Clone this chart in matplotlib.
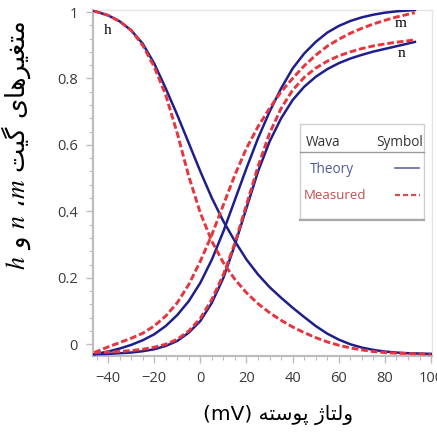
import matplotlib
matplotlib.use("Agg")
import matplotlib.pyplot as plt
from matplotlib.patches import Rectangle
from matplotlib.lines import Line2D
from matplotlib.ticker import MultipleLocator

plt.rcParams['mathtext.fontset'] = 'stix'

# membrane voltage (mV) and gate values
v_h = [-46, -40, -35, -30, -25, -20, -15, -10, -5, 0, 5, 10, 15, 20, 25, 30, 35, 40,
       45, 50, 55, 60, 65, 70, 75, 80, 85, 90, 95, 100]
h_theory = [1.003, 0.99, 0.972, 0.945, 0.905, 0.845, 0.77, 0.69, 0.605, 0.52, 0.44,
            0.37, 0.31, 0.255, 0.21, 0.172, 0.14, 0.11, 0.082, 0.055, 0.032, 0.014,
            0.0, -0.01, -0.017, -0.022, -0.025, -0.027, -0.028, -0.029]
h_measured = [1.003, 0.99, 0.972, 0.945, 0.90, 0.835, 0.75, 0.635, 0.505, 0.395, 0.31,
              0.245, 0.195, 0.155, 0.122, 0.095, 0.072, 0.052, 0.035, 0.02, 0.007,
              -0.003, -0.011, -0.017, -0.022, -0.025, -0.027, -0.028, -0.029, -0.03]

v_mn = [-46, -40, -35, -30, -25, -20, -15, -10, -5, 0, 5, 10, 15, 20, 25, 30, 35, 40,
        45, 50, 55, 60, 65, 70, 75, 80, 85, 93]
m_theory = [-0.03, -0.022, -0.013, -0.002, 0.012, 0.03, 0.055, 0.088, 0.13, 0.185,
            0.255, 0.34, 0.435, 0.53, 0.62, 0.70, 0.77, 0.83, 0.875, 0.91, 0.938,
            0.958, 0.973, 0.984, 0.992, 0.998, 1.002, 1.006]
m_measured = [-0.025, -0.008, 0.005, 0.018, 0.033, 0.055, 0.085, 0.125, 0.18, 0.25,
              0.33, 0.42, 0.51, 0.59, 0.655, 0.71, 0.76, 0.80, 0.838, 0.87, 0.897,
              0.918, 0.936, 0.951, 0.964, 0.975, 0.985, 0.998]
n_theory = [-0.03, -0.029, -0.027, -0.025, -0.021, -0.015, -0.005, 0.01, 0.035, 0.07,
            0.125, 0.20, 0.30, 0.41, 0.52, 0.61, 0.68, 0.735, 0.775, 0.805, 0.828,
            0.846, 0.86, 0.871, 0.881, 0.889, 0.897, 0.91]
n_measured = [-0.025, -0.024, -0.022, -0.019, -0.015, -0.009, 0.0, 0.015, 0.04, 0.078,
              0.135, 0.21, 0.305, 0.42, 0.535, 0.635, 0.71, 0.765, 0.803, 0.831,
              0.852, 0.868, 0.88, 0.89, 0.898, 0.904, 0.909, 0.916]

# presentation forms: isolated, final, initial, medial
FORMS = {
    'ا': ('\uFE8D', '\uFE8E', None, None),
    'ت': ('\uFE95', '\uFE96', '\uFE97', '\uFE98'),
    'ر': ('\uFEAD', '\uFEAE', None, None),
    'ژ': ('\uFB8A', '\uFB8B', None, None),
    'س': ('\uFEB1', '\uFEB2', '\uFEB3', '\uFEB4'),
    'غ': ('\uFECD', '\uFECE', '\uFECF', '\uFED0'),
    'گ': ('\uFB92', '\uFB93', '\uFB94', '\uFB95'),
    'ل': ('\uFEDD', '\uFEDE', '\uFEDF', '\uFEE0'),
    'م': ('\uFEE1', '\uFEE2', '\uFEE3', '\uFEE4'),
    'ه': ('\uFEE9', '\uFEEA', '\uFEEB', '\uFEEC'),
    'و': ('\uFEED', '\uFEEE', None, None),
    'پ': ('\uFB56', '\uFB57', '\uFB58', '\uFB59'),
    'ی': ('\uFBFC', '\uFBFD', '\uFBFE', '\uFBFF'),
}


def fa(word):
    # join persian letters and flip to visual order (matplotlib has no shaping)
    out = []
    for i, ch in enumerate(word):
        prev_joins = i > 0 and FORMS[word[i - 1]][2] is not None
        next_joins = i < len(word) - 1 and FORMS[ch][2] is not None
        iso, fin, ini, med = FORMS[ch]
        if prev_joins and next_joins:
            out.append(med)
        elif prev_joins:
            out.append(fin)
        elif next_joins:
            out.append(ini)
        else:
            out.append(iso)
    return ''.join(reversed(out))


blue = '#1f1f8c'
red = '#e5353f'

fig = plt.figure(figsize=(4.37, 4.36), dpi=100)
ax = fig.add_axes([0.213, 0.183, 0.776, 0.794])

ax.plot(v_h, h_theory, color=blue, lw=1.8, zorder=3)
ax.plot(v_h, h_measured, color=red, lw=2.1, dashes=(2.3, 1.0), zorder=4)
ax.plot(v_mn, m_theory, color=blue, lw=1.8, zorder=3)
ax.plot(v_mn, m_measured, color=red, lw=2.1, dashes=(2.3, 1.0), zorder=4)
ax.plot(v_mn, n_theory, color=blue, lw=1.8, zorder=3)
ax.plot(v_mn, n_measured, color=red, lw=2.1, dashes=(2.3, 1.0), zorder=4)

ax.set_xlim(-46.5, 100.5)
ax.set_ylim(-0.036, 1.006)
ax.xaxis.set_major_locator(MultipleLocator(20))
ax.xaxis.set_minor_locator(MultipleLocator(5))
ax.yaxis.set_major_locator(MultipleLocator(0.2))
ax.yaxis.set_minor_locator(MultipleLocator(0.04))
ax.set_yticks([0, 0.2, 0.4, 0.6, 0.8, 1.0])
ax.set_yticklabels(['0', '0.2', '0.4', '0.6', '0.8', '1'])

for s in ['left', 'bottom']:
    ax.spines[s].set_color('#bdbdbd')
    ax.spines[s].set_linewidth(1.6)
for s in ['top', 'right']:
    ax.spines[s].set_color('#e4e4e4')
    ax.spines[s].set_linewidth(1.0)

ax.tick_params(which='both', color='#bdbdbd', labelcolor='#3a3a3a', labelsize=10.5)
ax.tick_params(which='major', length=5, width=1.0, pad=6)
ax.tick_params(which='minor', length=3, width=0.8)
for lab in ax.get_xticklabels() + ax.get_yticklabels():
    lab.set_fontfamily('Open Sans')

ax.text(-40, 0.945, 'h', family='Liberation Serif', fontsize=11, ha='center', va='center')
ax.text(87, 0.965, 'm', family='Liberation Serif', fontsize=11, ha='center', va='center')
ax.text(87, 0.875, 'n', family='Liberation Serif', fontsize=11, ha='center', va='center')

# legend drawn as a small table
tr = ax.transAxes
ax.add_patch(Rectangle((0.61, 0.395), 0.367, 0.277, transform=tr, facecolor='white',
                       edgecolor='#cfcfcf', lw=1.0, zorder=5))
ax.add_line(Line2D([0.61, 0.977], [0.393, 0.393], transform=tr, color='#a8a8a8',
                   lw=1.6, zorder=6))
ax.add_line(Line2D([0.61, 0.977], [0.59, 0.59], transform=tr, color='#9a9a9a',
                   lw=1.0, zorder=6))
ax.text(0.628, 0.618, 'Wava', transform=tr, fontsize=9.8, color='#333333',
        family='Open Sans', va='center', ha='left', zorder=7)
ax.text(0.972, 0.618, 'Symbol', transform=tr, fontsize=9.8, color='#333333',
        family='Open Sans', va='center', ha='right', zorder=7)
ax.text(0.638, 0.538, 'Theory', transform=tr, fontsize=9.8, color='#4b5a9e',
        family='Open Sans', va='center', ha='left', zorder=7)
ax.text(0.62, 0.465, 'Measured', transform=tr, fontsize=9.5, color='#c0504d',
        family='Open Sans', va='center', ha='left', zorder=7)
ax.add_line(Line2D([0.89, 0.962], [0.543, 0.543], transform=tr, color='#5a6aa8',
                   lw=1.2, zorder=7))
ax.add_line(Line2D([0.89, 0.965], [0.465, 0.465], transform=tr, color='#d05050',
                   lw=1.6, dashes=(2.3, 1.3), zorder=7))

xlabel = '(mV) ' + fa('پوسته') + ' ' + fa('ولتاژ')
fig.text(0.636, 0.048, xlabel, fontsize=14.5, family='DejaVu Sans',
         ha='center', va='center')
ylabel = '$h$ ' + fa('و') + ' $n$ \u060c$m$ ' + fa('گیت') + ' ' + fa('متغیرهای')
fig.text(0.038, 0.667, ylabel, fontsize=18.5, family='DejaVu Sans', rotation=90,
         ha='center', va='center')

fig.savefig('out.png', dpi=100)
